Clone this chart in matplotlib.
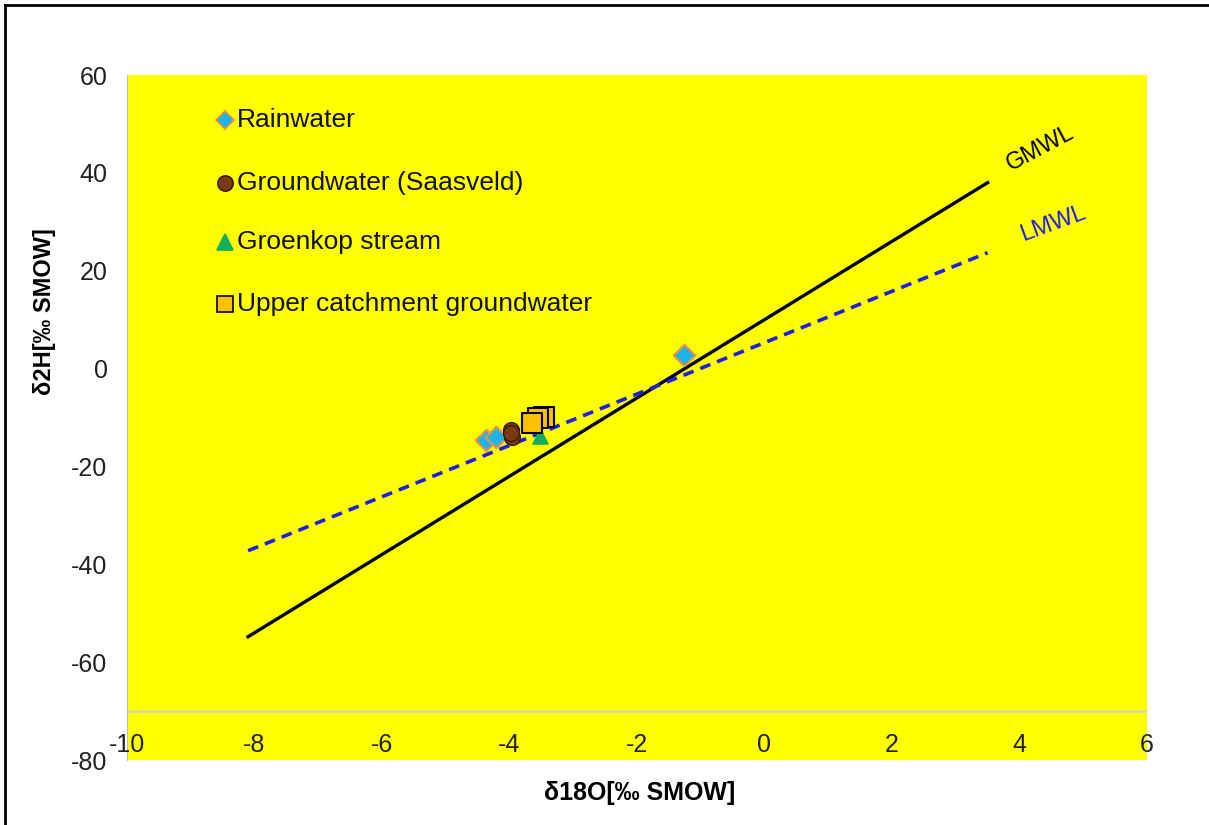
import matplotlib
matplotlib.use("Agg")
import matplotlib.pyplot as plt
from matplotlib.lines import Line2D

plt.rcParams['font.family'] = ['Liberation Sans', 'DejaVu Sans']

# Data
rain_x = [-4.37, -4.21, -1.27]
rain_y = [-14.6, -14.0, 2.8]
gw_x = [-3.98, -3.96, -3.97]
gw_y = [-12.5, -14.0, -13.2]
stream_x = [-3.52]
stream_y = [-13.8]
upper_x = [-3.46, -3.55, -3.65]
upper_y = [-9.9, -10.2, -11.1]

gmwl_x = [-8.1, 3.5]
gmwl_slope, gmwl_int = 8.0, 10.0
lmwl_x = [-8.1, 3.5]
lmwl_slope, lmwl_int = 5.25, 5.3

xticks = [-10, -8, -6, -4, -2, 0, 2, 4, 6]
yticks = [60, 40, 20, 0, -20, -40, -60, -80]

W, H = 1209, 825
fig = plt.figure(figsize=(W/100, H/100), dpi=100)
L, R, T, B = 127, 1147, 75, 760
ax = fig.add_axes([L/W, 1-B/H, (R-L)/W, (B-T)/H])
ax.set_facecolor('#FFFF00')
ax.set_xlim(-10, 6)
ax.set_ylim(-80, 60)
for s in ['top', 'right', 'bottom']:
    ax.spines[s].set_visible(False)
ax.spines['left'].set_color('#BFBFBF')
ax.axhline(-70, color='#D9D9A0', lw=2, zorder=1)

ax.set_xticks([])
ax.set_yticks(yticks)
ax.set_yticklabels([str(v) for v in yticks], fontsize=18, color='#222222')
ax.tick_params(axis='y', length=0, pad=14)
for v in xticks:
    ax.text(v, -77, str(v), ha='center', va='center', fontsize=18, color='#222222')

gy = [gmwl_slope*x + gmwl_int for x in gmwl_x]
ly = [lmwl_slope*x + lmwl_int for x in lmwl_x]
ax.plot(gmwl_x, gy, color='black', lw=2.4, zorder=2)
ax.plot(lmwl_x, ly, color='#1F1FE0', lw=2.6, ls=(0, (3, 2)), zorder=2)

ax.scatter(rain_x, rain_y, marker='D', s=120, facecolor='#1FB4E8', edgecolor='#E8924A', lw=1.5, zorder=3)
ax.scatter(gw_x, gw_y, marker='o', s=130, facecolor='#7B3A10', edgecolor='#3A1A05', lw=1.0, zorder=4)
ax.scatter(stream_x, stream_y, marker='^', s=120, facecolor='#12B05A', edgecolor='#12B05A', zorder=3)
ax.scatter(upper_x, upper_y, marker='s', s=190, facecolor='#FFC000', edgecolor='black', lw=1.5, zorder=5)

fig.text(1040/W, 1-148/H, 'GMWL', fontsize=17, color='black', rotation=28, ha='center', va='center')
fig.text(1053/W, 1-224/H, 'LMWL', fontsize=17, color='#1F1FE0', rotation=20, ha='center', va='center')

# legend (manual)
leg = [('Rainwater', 'D', '#1FB4E8', '#E8924A', 9),
       ('Groundwater (Saasveld)', 'o', '#7B3A10', '#3A1A05', 11),
       ('Groenkop stream', '^', '#12B05A', '#12B05A', 12),
       ('Upper catchment groundwater', 's', '#FFC000', 'black', 11)]
ys = [120, 183, 242, 304]
for (lab, m, fc, ec, ms), yy in zip(leg, ys):
    fig.add_artist(Line2D([225/W], [1-yy/H], marker=m, markersize=ms, markerfacecolor=fc,
                          markeredgecolor=ec, markeredgewidth=1.2, ls='none'))
    fig.text(237/W, 1-yy/H, lab, fontsize=19, va='center', ha='left', color='#111111')

fig.text(640/W, 1-793/H, 'δ18O[‰ SMOW]', fontsize=18, fontweight='bold', ha='center', va='center')
fig.text(44/W, 1-312/H, 'δ2H[‰ SMOW]', fontsize=17, fontweight='bold', ha='center', va='center', rotation=90)

# figure border (top and left)
fig.add_artist(Line2D([5/W, 5/W], [0, 1-5/H], color='black', lw=2))
fig.add_artist(Line2D([5/W, 1], [1-5/H, 1-5/H], color='black', lw=2))

fig.savefig('out.png', dpi=100, facecolor='white')
